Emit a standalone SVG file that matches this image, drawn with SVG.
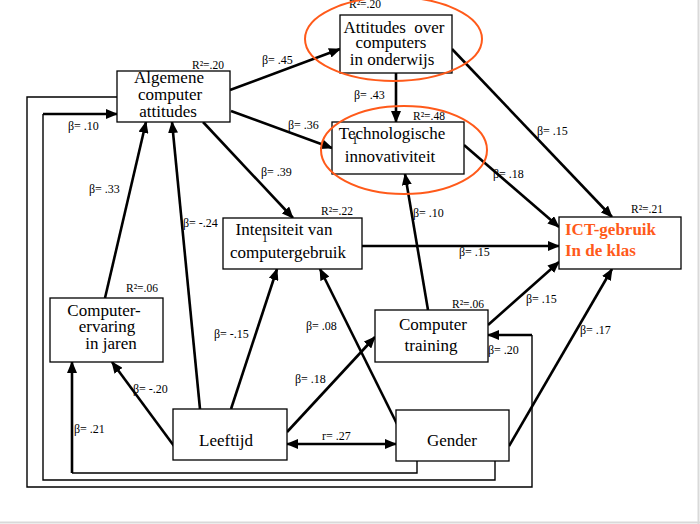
<svg xmlns="http://www.w3.org/2000/svg" width="700" height="524" viewBox="0 0 700 524">
<defs>
<marker id="ah" markerUnits="userSpaceOnUse" markerWidth="12" markerHeight="10" refX="11" refY="5" orient="auto-start-reverse">
<path d="M0,0 L12,5 L0,10 z" fill="#000"/>
</marker>
<style>
.box{fill:#fff;stroke:#000;stroke-width:1.3}
.t{font-family:"Liberation Serif","Times New Roman",serif;font-size:17px;fill:#000;text-anchor:middle}
.lb{font-family:"Liberation Serif","Times New Roman",serif;font-size:12px;fill:#000}
.r2{font-family:"Liberation Serif","Times New Roman",serif;font-size:11.5px;fill:#000}
.a{stroke:#000;stroke-width:2.6;fill:none;marker-end:url(#ah)}
.f{stroke:#000;stroke-width:1.4;fill:none}
.fa{stroke:#000;stroke-width:2.4;fill:none}
.ell{fill:none;stroke:#FF5A1A;stroke-width:2}
.ict{font-family:"Liberation Serif","Times New Roman",serif;font-size:17px;font-weight:bold;fill:#FF5A1A}
</style>
</defs>
<rect width="700" height="524" fill="#fff"/>
<line x1="698.5" y1="0" x2="698.5" y2="524" stroke="#d9d9d9" stroke-width="2"/>
<line x1="0" y1="522.5" x2="700" y2="522.5" stroke="#d9d9d9" stroke-width="2"/>

<g id="connectors">
<!-- frame lines -->
<polyline class="f" points="117,97 27,97 27,487 532,487 532,335"/>
<line class="a" x1="532" y1="335" x2="488" y2="335"/>
<polyline class="f" points="495,461 495,480 43,480 43,114"/>
<line class="a" x1="43" y1="114" x2="117" y2="114"/>
<polyline class="f" points="417,461 417,473 72,473"/>
<line class="a" x1="72" y1="473" x2="72" y2="362"/>
<!-- arrows -->
<line class="a" x1="230" y1="90" x2="340" y2="49"/>
<line class="a" x1="231" y1="111" x2="332" y2="148"/>
<line class="a" x1="203" y1="122" x2="293" y2="218"/>
<line class="a" x1="396" y1="73" x2="396" y2="122"/>
<line class="a" x1="452" y1="49" x2="612" y2="217"/>
<line class="a" x1="464" y1="145" x2="559" y2="227"/>
<line class="a" x1="105" y1="298" x2="146" y2="122"/>
<line class="a" x1="200" y1="409" x2="172" y2="122"/>
<line class="a" x1="231" y1="409" x2="277" y2="269"/>
<line class="a" x1="174" y1="446" x2="112" y2="362"/>
<line class="a" x1="287" y1="432" x2="375" y2="337"/>
<line class="a" x1="287" y1="444" x2="396" y2="444" marker-start="url(#ah)"/>
<line class="a" x1="397" y1="424" x2="320" y2="269"/>
<line class="a" x1="509" y1="446" x2="612" y2="269"/>
<line class="a" x1="488" y1="325" x2="559" y2="262"/>
<line class="a" x1="428" y1="310" x2="405" y2="174"/>
<line class="a" x1="362" y1="246" x2="559" y2="246"/>
</g>

<g id="algemene">
<rect class="box" x="117" y="71" width="113" height="51"/>
<text class="t" x="169" y="83">Algemene</text>
<text class="t" x="170" y="100">computer</text>
<text class="t" x="168" y="117">attitudes</text>
<text class="r2" x="192" y="69">R²=.20</text>
</g>
<g id="attitudes">
<rect class="box" x="340" y="15" width="112" height="58"/>
<text class="t" x="394" y="33" xml:space="preserve">Attitudes  over</text>
<text class="t" x="391" y="48">computers</text>
<text class="t" x="392" y="65">in onderwijs</text>
<text class="r2" x="349" y="8">R²=.20</text>
</g>
<g id="techno">
<rect class="box" x="332" y="122" width="132" height="52"/>
<text class="t" x="392" y="139">Technologische</text>
<text class="t" x="390" y="162">innovativiteit</text>
<text class="r2" x="352" y="144" font-size="10">1</text>
<text class="r2" x="413" y="120">R²=.48</text>
</g>
<g id="intensiteit">
<rect class="box" x="223" y="218" width="139" height="51"/>
<text class="t" x="284" y="235">Intensiteit van</text>
<text class="t" x="288" y="258">computergebruik</text>
<text class="r2" x="262" y="242" font-size="10">1</text>
<text class="r2" x="321" y="215">R²=.22</text>
</g>
<g id="ict">
<rect class="box" x="559" y="217" width="122" height="52"/>
<text class="ict" x="565" y="235">ICT-gebruik</text>
<text class="ict" x="565" y="256">In de klas</text>
<text class="r2" x="631" y="213">R²=.21</text>
</g>
<g id="ervaring">
<rect class="box" x="50" y="298" width="113" height="64"/>
<text class="t" x="104" y="316">Computer-</text>
<text class="t" x="107" y="332">ervaring</text>
<text class="t" x="111" y="349">in jaren</text>
<text class="r2" x="126" y="292">R²=.06</text>
</g>
<g id="training">
<rect class="box" x="375" y="310" width="113" height="52"/>
<text class="t" x="433" y="330">Computer</text>
<text class="t" x="431" y="351">training</text>
<text class="r2" x="452" y="308">R²=.06</text>
</g>
<g id="leeftijd">
<rect class="box" x="173" y="409" width="114" height="51"/>
<text class="t" x="226" y="446">Leeftijd</text>
</g>
<g id="gender">
<rect class="box" x="396" y="410" width="113" height="51"/>
<text class="t" x="452" y="446">Gender</text>
</g>

<g id="highlights">
<ellipse class="ell" cx="393.5" cy="39" rx="88.5" ry="42"/>
<ellipse class="ell" cx="404" cy="150" rx="83" ry="44"/>
</g>

<g id="labels">
<text class="lb" x="262" y="64">β= .45</text>
<text class="lb" x="68" y="130">β= .10</text>
<text class="lb" x="288" y="129">β= .36</text>
<text class="lb" x="261" y="176">β= .39</text>
<text class="lb" x="354" y="99">β= .43</text>
<text class="lb" x="537" y="135">β= .15</text>
<text class="lb" x="493" y="178">β= .18</text>
<text class="lb" x="89" y="193">β= .33</text>
<text class="lb" x="183" y="227">β= -.24</text>
<text class="lb" x="214" y="338">β= -.15</text>
<text class="lb" x="306" y="330">β= .08</text>
<text class="lb" x="413" y="217">β= .10</text>
<text class="lb" x="459" y="256">β= .15</text>
<text class="lb" x="526" y="303">β= .15</text>
<text class="lb" x="580" y="334">β= .17</text>
<text class="lb" x="488" y="354">β= .20</text>
<text class="lb" x="133" y="393">β= -.20</text>
<text class="lb" x="74" y="433">β= .21</text>
<text class="lb" x="295" y="383">β= .18</text>
<text class="lb" x="322" y="440">r= .27</text>
</g>
</svg>
